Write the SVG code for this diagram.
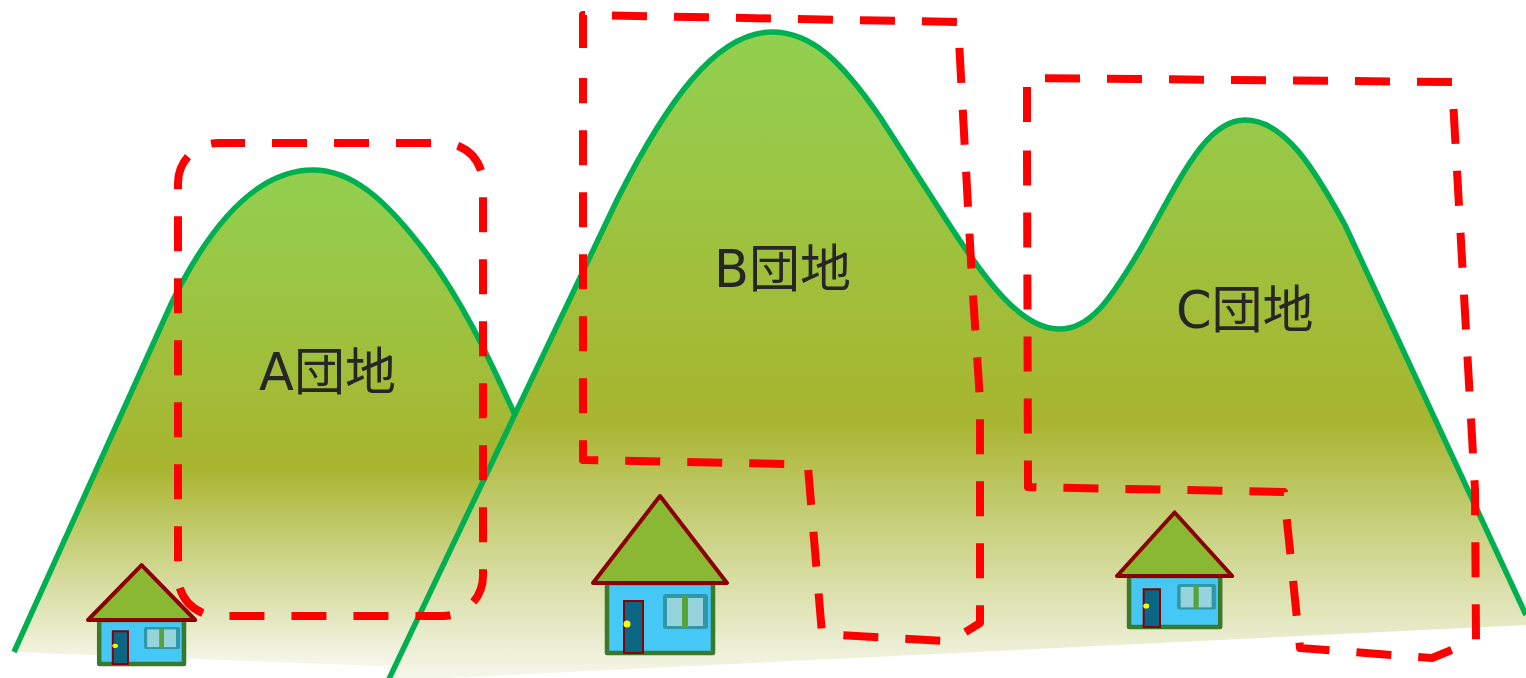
<svg xmlns="http://www.w3.org/2000/svg" xmlns:xlink="http://www.w3.org/1999/xlink" width="1526" height="678" viewBox="0 0 1526 678">
  <style>
    .ridge { fill: none; stroke: #00b050; stroke-width: 5.5; stroke-linejoin: round; }
    .zone { fill: none; stroke: #ff0000; stroke-width: 8; stroke-dasharray: 35 27; stroke-linejoin: round; }
    .label { font-family: "DejaVu Sans", "Noto Sans CJK JP", sans-serif; font-size: 51px; fill: #262626; }
    .roof { fill: #8bb833; stroke: #8b0000; stroke-width: 4; stroke-linejoin: round; }
    .wall { fill: #45c8f5; stroke: #3a7a2a; stroke-width: 4.5; stroke-linejoin: round; }
    .door { fill: #0a6683; stroke: #8b0000; stroke-width: 2; }
  </style>
  <defs>
    <linearGradient id="slopeA" gradientUnits="userSpaceOnUse" x1="0" y1="170" x2="0" y2="665">
      <stop offset="0" stop-color="#92d050"/>
      <stop offset="0.6" stop-color="#a8b52f"/>
      <stop offset="1" stop-color="#f6f7ec"/>
    </linearGradient>
    <linearGradient id="slopeB" gradientUnits="userSpaceOnUse" x1="0" y1="32" x2="0" y2="680">
      <stop offset="0" stop-color="#92d050"/>
      <stop offset="0.6" stop-color="#a8b52f"/>
      <stop offset="1" stop-color="#f6f7ec"/>
    </linearGradient>
    <!-- house drawn with the roof base-left corner at the origin -->
    <g id="house">
      <rect class="wall" x="14" y="0" width="106" height="70" vector-effect="non-scaling-stroke"/>
      <rect class="door" x="31" y="18" width="19" height="52" vector-effect="non-scaling-stroke"/>
      <circle cx="34" cy="41" r="3.5" fill="#ffff00"/>
      <rect x="70" y="11" width="45" height="35" rx="3" fill="#2f97a7"/>
      <rect x="74" y="15" width="36" height="28" fill="#97d3dc"/>
      <rect x="89" y="13" width="6" height="32" fill="#55a33a"/>
      <polygon class="roof" points="0,0 67,-87 134,0" vector-effect="non-scaling-stroke"/>
    </g>
  </defs>

  <!-- hill A -->
  <g id="hill-a">
    <path fill="url(#slopeA)" d="M14,652 L172,302 C215,215 262,170 313,170 C352,170 385,200 420,245 C460,295 490,360 515,415 L560,500 L540,672 Z"/>
    <path class="ridge" d="M14,652 L172,302 C215,215 262,170 313,170 C352,170 385,200 420,245 C460,295 490,360 515,415"/>
  </g>

  <!-- hills B and C -->
  <g id="hill-bc">
    <path fill="url(#slopeB)" d="M388,681 L617,200 C665,105 715,32 772,32 C812,32 842,62 880,117 L945,218 C985,280 1020,328 1058,329 C1090,330 1110,300 1140,250 C1180,180 1205,120 1245,120 C1285,120 1315,170 1345,225 L1526,615 L1526,625 Z"/>
    <path class="ridge" d="M388,681 L617,200 C665,105 715,32 772,32 C812,32 842,62 880,117 L945,218 C985,280 1020,328 1058,329 C1090,330 1110,300 1140,250 C1180,180 1205,120 1245,120 C1285,120 1315,170 1345,225 L1526,615"/>
  </g>

  <!-- houses -->
  <g id="house-a"><use xlink:href="#house" href="#house" transform="translate(88,620) scale(0.8,0.63)"/></g>
  <g id="house-b"><use xlink:href="#house" href="#house" transform="translate(593,583)"/></g>
  <g id="house-c"><use xlink:href="#house" href="#house" transform="translate(1117,576) scale(0.86,0.73)"/></g>

  <!-- area labels -->
  <g id="label-a"><text class="label" x="259" y="390">A団地</text></g>
  <g id="label-b"><text class="label" x="714" y="287">B団地</text></g>
  <g id="label-c"><text class="label" x="1176" y="328">C団地</text></g>

  <!-- area boundaries -->
  <g id="area-a">
    <rect class="zone" x="178" y="143" width="305" height="473" rx="40" stroke-dashoffset="8"/>
  </g>
  <g id="area-b">
    <path class="zone" d="M583,48 L583,15 L958,22 L972,280 L980,400 L980,623 L964,633 L945,641 L822,634 L808,467 L790,464 L583,460 L583,78"/>
  </g>
  <g id="area-c">
    <path class="zone" d="M1027,122 L1027,78 L1452,82 L1475,490 L1476,640 L1432,658 L1300,648 L1284,492 L1028,487 L1027,150"/>
  </g>
</svg>
